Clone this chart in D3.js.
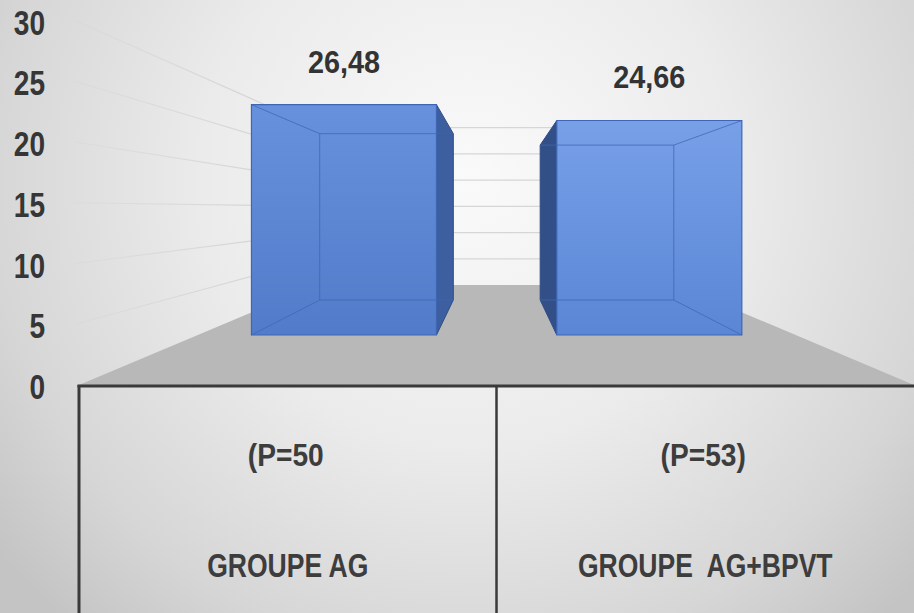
<!DOCTYPE html>
<html>
<head>
<meta charset="utf-8">
<script src="https://cdn.jsdelivr.net/npm/d3@7"></script>
<style>
  html, body { margin: 0; padding: 0; background: #e8e8e8; }
  svg { display: block; }
  text { font-family: "Liberation Sans", Arial, sans-serif; font-weight: bold; }
</style>
</head>
<body>
<svg id="chart" width="914" height="613"></svg>
<script>
// ---- data ----
const categories = ["GROUPE AG", "GROUPE  AG+BPVT"];
const sampleLabels = ["(P=50", "(P=53)"];
const values = [26.48, 24.66];
const valueLabels = ["26,48", "24,66"];
const yTicks = [0, 5, 10, 15, 20, 25, 30];
const yTickLabels = ["0", "5", "10", "15", "20", "25", "30"];

// ---- geometry ----
const W = 914, H = 613;
const left = 79, right = 914;
const floorFront = 385;
const vp = { x: 497, y: 209 };           // vanishing point
const depthFrontBar = 0.284, depthBackBar = 0.483, depthWall = 0.568;

const svg = d3.select("#chart");
const defs = svg.append("defs");

const y = d3.scaleLinear().domain([0, 30]).range([floorFront, floorFront - 30 * 12.15]);
const xBar = d3.scaleBand().domain(categories).range([left, right]).paddingInner(0.394).paddingOuter(0.176);
const xCat = d3.scaleBand().domain(categories).range([left, right]);

function proj(X, Y, t) {
  const k = 1 - t;
  return [vp.x + (X - vp.x) * k, vp.y + (Y - vp.y) * k];
}
function narrowText(sel, x, yy, anchor, size, sx, fill, str) {
  return sel.append("text")
    .attr("transform", `translate(${x},${yy}) scale(${sx},1)`)
    .attr("text-anchor", anchor).attr("font-size", size).attr("fill", fill)
    .style("white-space", "pre").text(str);
}

// background
const bg = defs.append("radialGradient").attr("id", "bg")
  .attr("gradientUnits", "userSpaceOnUse").attr("cx", 470).attr("cy", 180).attr("r", 600);
bg.append("stop").attr("offset", 0).attr("stop-color", "#fafafa");
bg.append("stop").attr("offset", 0.45).attr("stop-color", "#ebebeb");
bg.append("stop").attr("offset", 0.8).attr("stop-color", "#d6d6d6");
bg.append("stop").attr("offset", 1).attr("stop-color", "#c4c4c4");
svg.append("rect").attr("width", W).attr("height", H).attr("fill", "url(#bg)");

// gridline gradient for left side wall (fades to left)
const gl = defs.append("linearGradient").attr("id", "gl")
  .attr("gradientUnits", "userSpaceOnUse").attr("x1", 60).attr("x2", 320).attr("y1", 0).attr("y2", 0);
gl.append("stop").attr("offset", 0).attr("stop-color", "#d4d4d4").attr("stop-opacity", 0.3);
gl.append("stop").attr("offset", 1).attr("stop-color", "#cfcfcf").attr("stop-opacity", 1);

const gridTicks = yTicks.filter(v => v > 0);
const backLeft = proj(left, 0, depthWall)[0];
const backRight = proj(right, 0, depthWall)[0];

// left side wall gridlines
svg.append("g").selectAll("line").data(gridTicks).join("line")
  .attr("x1", left - 4).attr("y1", d => y(d))
  .attr("x2", backLeft).attr("y2", d => proj(left, y(d), depthWall)[1])
  .attr("stroke", "url(#gl)").attr("stroke-width", 1.2);

// back wall gridlines
svg.append("g").selectAll("line").data(gridTicks).join("line")
  .attr("x1", backLeft).attr("x2", backRight)
  .attr("y1", d => proj(left, y(d), depthWall)[1])
  .attr("y2", d => proj(left, y(d), depthWall)[1])
  .attr("stroke", "#d6d6d6").attr("stroke-width", 1.2);

// floor
const fl = [[left, floorFront], [right, floorFront],
  proj(right, floorFront, depthWall), proj(left, floorFront, depthWall)];
svg.append("path").attr("d", "M" + fl.map(p => p.join(",")).join("L") + "Z").attr("fill", "#b8b8b8");

// bar gradients
const fillsFront = [["#6791dc", "#527cc9"], ["#77a0e8", "#5a86d5"]];
fillsFront.forEach((c, i) => {
  const g = defs.append("linearGradient").attr("id", "front" + i).attr("x1", 0).attr("x2", 0).attr("y1", 0).attr("y2", 1);
  g.append("stop").attr("offset", 0).attr("stop-color", c[0]);
  g.append("stop").attr("offset", 1).attr("stop-color", c[1]);
});

const bars = svg.append("g");
categories.forEach((cat, i) => {
  const X0 = xBar(cat), X1 = X0 + xBar.bandwidth();
  const Yt = y(values[i]), Yb = y(0);
  const fTL = proj(X0, Yt, depthFrontBar), fTR = proj(X1, Yt, depthFrontBar);
  const fBL = proj(X0, Yb, depthFrontBar), fBR = proj(X1, Yb, depthFrontBar);
  const bTL = proj(X0, Yt, depthBackBar), bTR = proj(X1, Yt, depthBackBar);
  const bBL = proj(X0, Yb, depthBackBar), bBR = proj(X1, Yb, depthBackBar);
  const centerX = (X0 + X1) / 2;
  const path = pts => "M" + pts.map(p => p.join(",")).join("L") + "Z";

  // visible side face
  const side = centerX < vp.x ? [fTR, bTR, bBR, fBR] : [fTL, bTL, bBL, fBL];
  bars.append("path").attr("d", path(side))
    .attr("fill", centerX < vp.x ? "#3d5e9f" : "#334f88")
    .attr("stroke", "#2f4c86").attr("stroke-width", 1);

  // front face
  bars.append("path").attr("d", path([fTL, fTR, fBR, fBL]))
    .attr("fill", "url(#front" + i + ")")
    .attr("stroke", "#3e66b3").attr("stroke-width", 1.2);

  // hidden (back) edges seen through the translucent bar
  const hidden = centerX < vp.x
    ? [[fTL, bTL], [bTL, bTR], [bTL, bBL], [bBL, bBR], [fBL, bBL]]
    : [[fTR, bTR], [bTL, bTR], [bTR, bBR], [bBL, bBR], [fBR, bBR]];
  bars.append("g").selectAll("line").data(hidden).join("line")
    .attr("x1", d => d[0][0]).attr("y1", d => d[0][1])
    .attr("x2", d => d[1][0]).attr("y2", d => d[1][1])
    .attr("stroke", "#3f66b2").attr("stroke-opacity", 0.75).attr("stroke-width", 1);

  // value label
  narrowText(svg, (fTL[0] + fTR[0]) / 2, fTL[1] - 32, "middle", 31, 0.93, "#333", valueLabels[i]);
});

// category table lines
const tbl = svg.append("g").attr("stroke", "#3a3a3a");
tbl.append("line").attr("x1", left - 1.5).attr("x2", right).attr("y1", floorFront + 1).attr("y2", floorFront + 1).attr("stroke-width", 3);
tbl.append("line").attr("x1", left).attr("x2", left).attr("y1", floorFront).attr("y2", H).attr("stroke-width", 3);
tbl.append("line").attr("x1", xCat(categories[1])).attr("x2", xCat(categories[1])).attr("y1", floorFront).attr("y2", H).attr("stroke-width", 2.5);

// category labels
categories.forEach((cat, i) => {
  const cx = xCat(cat) + xCat.bandwidth() / 2;
  narrowText(svg, cx - 2, 466, "middle", 32, 0.88, "#3d3d3d", sampleLabels[i]);
  narrowText(svg, cx, 577, "middle", 34, 0.78, "#3d3d3d", cat);
});

// y tick labels
svg.append("g").selectAll("text").data(yTicks).join("text")
  .attr("transform", d => `translate(45,${y(d) + 14}) scale(0.78,1)`)
  .attr("text-anchor", "end").attr("font-size", 36).attr("fill", "#363636")
  .text((d, i) => yTickLabels[i]);
</script>
</body>
</html>
